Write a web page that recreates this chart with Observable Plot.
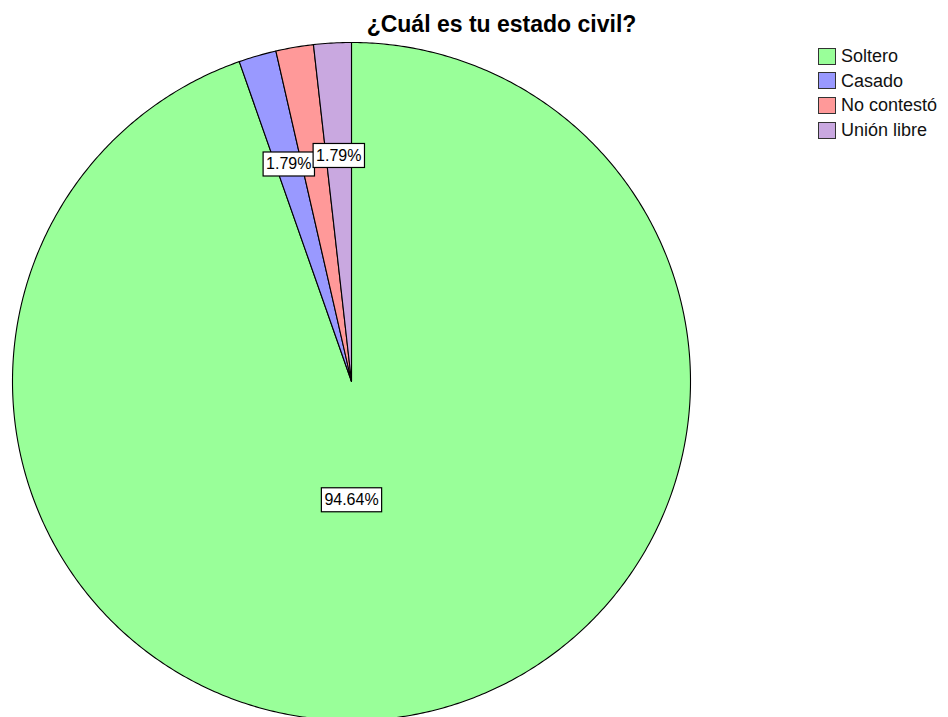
<!DOCTYPE html>
<html><head><meta charset="utf-8">
<script src="https://cdn.jsdelivr.net/npm/d3@7"></script>
<script src="https://cdn.jsdelivr.net/npm/@observablehq/plot@0.6"></script>
<style>
body{margin:0;background:#fff;font-family:"Liberation Sans",Arial,sans-serif;}
#wrap{position:relative;width:948px;height:717px;overflow:hidden;}
#legend{position:absolute;left:818px;top:44px;}
.row{display:flex;align-items:center;height:24.6px;}
.sw{width:18px;height:17px;border:1px solid #333;box-sizing:border-box;flex:none;}
.lt{margin-left:5px;font-size:18px;color:#111;white-space:nowrap;line-height:18px;}
</style></head>
<body>
<div id="wrap"><div id="legend"></div></div>
<script>
const categories = ["Soltero", "Casado", "No contestó", "Unión libre"];
const percents = [94.64, 1.79, 1.79, 1.79];
const colors = ["#99ff99", "#9999ff", "#ff9999", "#c9a8e0"];
const labelShown = [true, true, false, true];
const title = "¿Cuál es tu estado civil?";

const total = d3.sum(percents);
let acc = 0;
const pts = [];
const labels = [];
categories.forEach((c, i) => {
  const a0 = acc / total * 2 * Math.PI;
  acc += percents[i];
  const a1 = acc / total * 2 * Math.PI;
  const n = Math.max(2, Math.ceil((a1 - a0) / (Math.PI / 360)));
  pts.push({cat: c, x: 0, y: 0});
  for (let k = 0; k <= n; k++) {
    const a = a0 + (a1 - a0) * k / n;
    pts.push({cat: c, x: Math.sin(a), y: Math.cos(a)});
  }
  pts.push({cat: c, x: 0, y: 0});
  const big = percents[i] / total > 0.5;
  const am = big ? Math.PI : (a0 + a1) / 2;
  const rr = big ? 0.35 : 2 / 3;
  if (labelShown[i]) labels.push({cat: c, text: percents[i].toFixed(2) + "%", x: rr * Math.sin(am), y: rr * Math.cos(am)});
});

const chart = Plot.plot({
  width: 948, height: 717, margin: 0,
  x: {domain: [-1, 1], range: [12, 690], axis: null},
  y: {domain: [-1, 1], range: [720, 42], axis: null},
  color: {domain: categories, range: colors},
  style: {fontFamily: "Liberation Sans, Arial, sans-serif", background: "white", overflow: "hidden"},
  marks: [
    Plot.line(pts, {x: "x", y: "y", z: "cat", fill: "cat", stroke: "#000", strokeWidth: 1.1, curve: "linear", strokeLinejoin: "round"}),
    Plot.text(labels, {x: "x", y: "y", text: "text", fontSize: 16, fill: "#000", className: "plab"}),
    Plot.text([title], {frameAnchor: "top-left", dx: 501, dy: 24, lineAnchor: "middle", text: d => d, fontSize: 23, fontWeight: "bold", fill: "#000", textAnchor: "middle"})
  ]
});
document.getElementById("wrap").prepend(chart);

// white boxes behind the slice labels
d3.select(chart).selectAll("g.plab text").each(function() {
  const b = this.getBBox();
  const r = document.createElementNS("http://www.w3.org/2000/svg", "rect");
  r.setAttribute("x", b.x - 3);
  r.setAttribute("y", b.y - 3.5);
  r.setAttribute("width", b.width + 6);
  r.setAttribute("height", b.height + 7);
  r.setAttribute("fill", "#fff");
  r.setAttribute("stroke", "#000");
  r.setAttribute("stroke-width", 1.2);
  const tr = this.getAttribute("transform");
  if (tr) r.setAttribute("transform", tr);
  this.parentNode.insertBefore(r, this);
});

const legend = d3.select("#legend");
categories.forEach((c, i) => {
  const row = legend.append("div").attr("class", "row");
  row.append("div").attr("class", "sw").style("background", colors[i]);
  row.append("div").attr("class", "lt").text(c);
});
</script>
</body></html>
